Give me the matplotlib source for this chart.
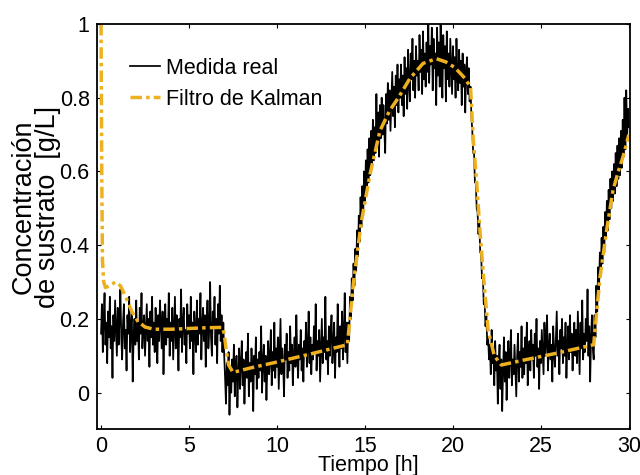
import numpy as np
import matplotlib
matplotlib.use("Agg")
import matplotlib.pyplot as plt

plt.rcParams['font.family'] = ['Liberation Sans', 'DejaVu Sans']

# medida real, una muestra cada 0.05 h (0 ... 30 h), 10 muestras por fila
medida = [
    0.16, 0.24, 0.11, 0.20, 0.27, 0.13, 0.19, 0.08, 0.22, 0.15,    # 0.0 h
    0.26, 0.12, 0.18, 0.04, 0.21, 0.14, 0.25, 0.17, 0.10, 0.23,    # 0.5 h
    0.13, 0.20, 0.28, 0.15, 0.09, 0.19, 0.24, 0.12, 0.17, 0.06,    # 1.0 h
    0.21, 0.16, 0.26, 0.11, 0.18, 0.22, 0.03, 0.15, 0.20, 0.13,    # 1.5 h
    0.25, 0.14, 0.19, 0.09, 0.23, 0.16, 0.27, 0.12, 0.18, 0.21,    # 2.0 h
    0.10, 0.17, 0.24, 0.14, 0.20, 0.07, 0.22, 0.15, 0.26, 0.13,    # 2.5 h
    0.19, 0.11, 0.23, 0.16, 0.08, 0.21, 0.14, 0.25, 0.18, 0.12,    # 3.0 h
    0.22, 0.05, 0.17, 0.24, 0.13, 0.20, 0.15, 0.27, 0.10, 0.19,    # 3.5 h
    0.14, 0.23, 0.09, 0.18, 0.26, 0.12, 0.21, 0.16, 0.06, 0.20,    # 4.0 h
    0.15, 0.28, 0.11, 0.19, 0.23, 0.13, 0.17, 0.08, 0.24, 0.16,    # 4.5 h
    0.21, 0.12, 0.26, 0.14, 0.19, 0.05, 0.22, 0.17, 0.11, 0.25,    # 5.0 h
    0.13, 0.20, 0.16, 0.27, 0.09, 0.18, 0.23, 0.14, 0.21, 0.07,    # 5.5 h
    0.19, 0.25, 0.12, 0.17, 0.30, 0.15, 0.10, 0.22, 0.18, 0.26,    # 6.0 h
    0.13, 0.20, 0.08, 0.24, 0.16, 0.29, 0.14, 0.21, 0.11, 0.19,    # 6.5 h
    0.10, 0.04, -0.03, 0.08, 0.02, 0.11, -0.06, 0.06, 0.00, 0.09,  # 7.0 h
    0.03, 0.13, -0.01, 0.07, 0.10, -0.04, 0.05, 0.12, 0.01, 0.08,  # 7.5 h
    0.14, 0.02, 0.09, -0.03, 0.06, 0.11, 0.04, 0.16, -0.01, 0.08,  # 8.0 h
    0.03, 0.12, 0.07, -0.05, 0.10, 0.05, 0.15, 0.01, 0.09, 0.04,   # 8.5 h
    0.11, 0.06, 0.18, 0.00, 0.08, 0.13, 0.03, 0.10, -0.02, 0.07,   # 9.0 h
    0.14, 0.05, 0.09, 0.17, 0.02, 0.11, 0.06, 0.19, 0.04, 0.12,    # 9.5 h
    0.07, 0.15, 0.01, 0.10, 0.20, 0.05, 0.12, 0.08, -0.01, 0.13,   # 10.0 h
    0.09, 0.16, 0.04, 0.11, 0.06, 0.18, 0.08, 0.13, 0.02, 0.10,    # 10.5 h
    0.15, 0.07, 0.21, 0.10, 0.04, 0.13, 0.09, 0.17, 0.06, 0.12,    # 11.0 h
    0.03, 0.14, 0.10, 0.19, 0.07, 0.12, 0.22, 0.08, 0.15, 0.05,    # 11.5 h
    0.13, 0.09, 0.18, 0.11, 0.24, 0.06, 0.14, 0.10, 0.17, 0.03,    # 12.0 h
    0.12, 0.20, 0.08, 0.15, 0.11, 0.26, 0.09, 0.14, 0.05, 0.18,    # 12.5 h
    0.10, 0.16, 0.21, 0.08, 0.13, 0.19, 0.04, 0.15, 0.11, 0.24,    # 13.0 h
    0.14, 0.07, 0.18, 0.12, 0.22, 0.09, 0.16, 0.27, 0.11, 0.19,    # 13.5 h
    0.08, 0.19, 0.14, 0.26, 0.20, 0.31, 0.25, 0.35, 0.29, 0.39,    # 14.0 h
    0.33, 0.44, 0.37, 0.48, 0.41, 0.53, 0.45, 0.56, 0.48, 0.60,    # 14.5 h
    0.52, 0.63, 0.55, 0.66, 0.57, 0.69, 0.59, 0.71, 0.62, 0.74,    # 15.0 h
    0.63, 0.72, 0.65, 0.81, 0.67, 0.76, 0.64, 0.78, 0.69, 0.80,    # 15.5 h
    0.70, 0.78, 0.71, 0.65, 0.81, 0.73, 0.84, 0.74, 0.82, 0.71,    # 16.0 h
    0.79, 0.87, 0.75, 0.83, 0.72, 0.86, 0.78, 0.89, 0.76, 0.85,    # 16.5 h
    0.80, 0.89, 0.78, 0.86, 0.75, 0.91, 0.81, 0.88, 0.77, 0.93,    # 17.0 h
    0.84, 0.79, 0.92, 0.85, 0.96, 0.82, 0.90, 0.80, 0.94, 0.86,    # 17.5 h
    0.90, 0.82, 0.97, 0.87, 0.93, 0.81, 0.98, 0.85, 0.92, 0.83,    # 18.0 h
    0.95, 0.87, 1.00, 0.84, 0.94, 0.89, 0.99, 0.82, 0.96, 0.88,    # 18.5 h
    0.92, 0.78, 0.99, 0.86, 0.95, 0.83, 1.00, 0.89, 0.80, 0.97,    # 19.0 h
    0.88, 0.94, 0.79, 0.98, 0.85, 0.92, 0.83, 0.96, 0.88, 0.81,    # 19.5 h
    0.94, 0.85, 0.91, 0.80, 0.96, 0.86, 0.82, 0.93, 0.84, 0.90,    # 20.0 h
    0.78, 0.92, 0.83, 0.89, 0.76, 0.87, 0.91, 0.81, 0.88, 0.79,    # 20.5 h
    0.83, 0.75, 0.71, 0.65, 0.65, 0.57, 0.57, 0.50, 0.49, 0.43,    # 21.0 h
    0.46, 0.38, 0.38, 0.31, 0.32, 0.24, 0.25, 0.18, 0.21, 0.13,    # 21.5 h
    0.15, 0.09, 0.13, 0.05, 0.17, 0.08, 0.11, 0.02, 0.14, 0.06,    # 22.0 h
    0.10, -0.03, 0.08, 0.13, 0.01, 0.09, -0.05, 0.06, 0.15, 0.03,  # 22.5 h
    0.11, -0.02, 0.07, 0.14, 0.04, 0.10, 0.17, 0.02, 0.09, 0.05,   # 23.0 h
    0.13, 0.06, -0.01, 0.10, 0.16, 0.03, 0.11, 0.07, 0.18, 0.04,   # 23.5 h
    0.12, 0.05, 0.15, 0.08, 0.19, 0.02, 0.11, 0.14, 0.06, 0.17,    # 24.0 h
    0.09, 0.13, 0.04, 0.16, 0.10, 0.20, 0.07, 0.12, 0.01, 0.14,    # 24.5 h
    0.08, 0.17, 0.11, 0.05, 0.19, 0.10, 0.14, 0.21, 0.06, 0.12,    # 25.0 h
    0.16, 0.09, 0.13, 0.03, 0.18, 0.11, 0.07, 0.15, 0.22, 0.10,    # 25.5 h
    0.14, 0.05, 0.17, 0.12, 0.20, 0.08, 0.15, 0.10, 0.19, 0.04,    # 26.0 h
    0.13, 0.18, 0.09, 0.21, 0.11, 0.16, 0.06, 0.14, 0.19, 0.10,    # 26.5 h
    0.17, 0.08, 0.22, 0.13, 0.05, 0.19, 0.12, 0.25, 0.09, 0.16,    # 27.0 h
    0.11, 0.20, 0.14, 0.28, 0.10, 0.18, 0.03, 0.15, 0.21, 0.12,    # 27.5 h
    0.09, 0.21, 0.15, 0.29, 0.22, 0.34, 0.27, 0.38, 0.32, 0.42,    # 28.0 h
    0.35, 0.45, 0.38, 0.49, 0.42, 0.52, 0.44, 0.55, 0.47, 0.58,    # 28.5 h
    0.50, 0.60, 0.52, 0.62, 0.54, 0.65, 0.56, 0.67, 0.58, 0.69,    # 29.0 h
    0.59, 0.71, 0.61, 0.74, 0.64, 0.80, 0.66, 0.82, 0.69, 0.77,    # 29.5 h
    0.72,
]
t_medida = np.linspace(0, 30, len(medida))

# estimacion del filtro de Kalman
t_kalman = [0, 0.04, 0.08, 0.15, 0.25, 0.5, 0.8, 1.1, 1.4, 1.75, 2.1, 2.5,
            3.0, 4.0, 5.0, 6.0, 6.9, 7.0, 7.1, 7.25, 7.5, 8.5, 10, 12,
            14.0, 14.35, 14.8, 15.3, 15.85, 16.4, 16.9, 17.55, 18.3, 19.05,
            19.6, 20.1, 20.6, 21.0, 21.15, 21.35, 21.55, 21.75, 22.0, 22.35,
            22.75, 24, 26, 28.0, 28.35, 28.75, 29.1, 29.4, 29.7, 30.0]
kalman = [1.0, 0.6, 0.36, 0.30, 0.285, 0.29, 0.30, 0.29, 0.26, 0.22, 0.193, 0.178,
          0.172, 0.172, 0.174, 0.176, 0.177, 0.16, 0.12, 0.075, 0.055, 0.067, 0.083, 0.106,
          0.13, 0.30, 0.465, 0.595, 0.71, 0.765, 0.80, 0.852, 0.893, 0.906,
          0.897, 0.882, 0.857, 0.83, 0.69, 0.57, 0.43, 0.31, 0.17, 0.10,
          0.075, 0.088, 0.108, 0.13, 0.31, 0.445, 0.55, 0.60, 0.645, 0.70]

fig = plt.figure(figsize=[6.4, 4.75], dpi=100)
ax = fig.add_axes([0.151, 0.0958, 0.833, 0.8537])

ax.plot(t_medida, medida, color='black', linewidth=1.25, label='Medida real')
ax.plot(t_kalman, kalman, color='#EDB120', linewidth=2.5,
        linestyle=(0, (3.3, 1.2, 1.0, 1.2)), label='Filtro de Kalman')

ax.set_xlim(-0.25, 30.05)
ax.set_ylim(-0.1, 1.0)
ax.set_xticks([0, 5, 10, 15, 20, 25, 30])
ax.set_yticks([0, 0.2, 0.4, 0.6, 0.8, 1])
ax.set_yticklabels(['0', '0.2', '0.4', '0.6', '0.8', '1'])
ax.tick_params(direction='in', length=3, width=0.8, top=True, right=True,
               labelsize=15.5, pad=5)
for s in ax.spines.values():
    s.set_linewidth(1.3)

ax.set_xlabel('Tiempo [h]', fontsize=15.5)
ax.xaxis.set_label_coords(0.51, -0.064)
ax.set_ylabel('Concentración\nde sustrato  [g/L]', fontsize=19.5,
              linespacing=0.92, va='center', ha='center')
ax.yaxis.set_label_coords(-0.114, 0.549)

ax.legend(loc='upper left', bbox_to_anchor=(130 / 640, 1 - 58 / 475),
          bbox_transform=fig.transFigure, frameon=False, fontsize=15.5,
          borderpad=0, borderaxespad=0, handlelength=1.4, handletextpad=0.25,
          labelspacing=0.45)

plt.savefig('out.png', dpi=100)
